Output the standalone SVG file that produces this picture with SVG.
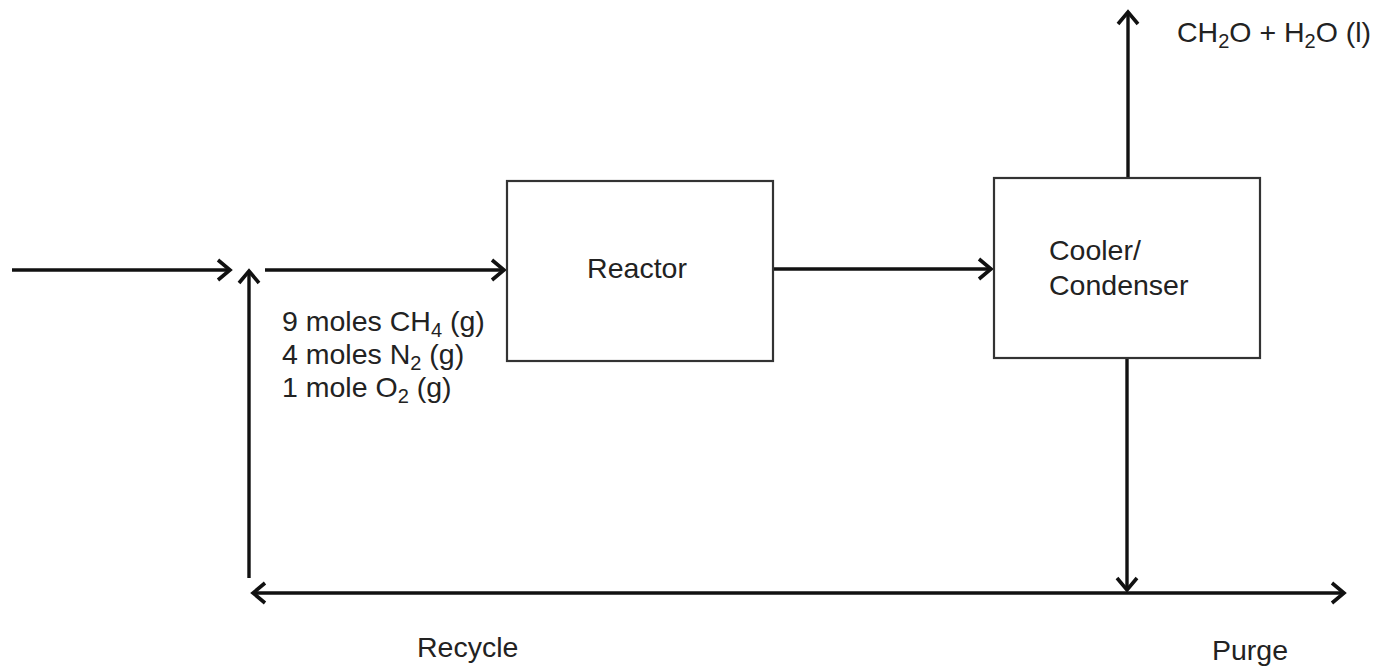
<svg xmlns="http://www.w3.org/2000/svg" width="1377" height="668" viewBox="0 0 1377 668">
  <style>
    .box { fill: #ffffff; stroke: #333333; stroke-width: 2.2; }
    .flow { stroke: #111; stroke-width: 3.4; fill: none; marker-end: url(#arr); }
    .lbl { font-family: "Liberation Sans", Arial, sans-serif; font-size: 28.5px; fill: #222222; }
    .sub { font-size: 20px; }
  </style>
  <defs>
    <marker id="arr" markerUnits="userSpaceOnUse" viewBox="-16 -14 20 28" refX="0" refY="0" markerWidth="20" markerHeight="28" orient="auto" overflow="visible">
      <path d="M-12,-10 L0,0 L-12,10" fill="none" stroke="#111" stroke-width="3.6" stroke-linejoin="miter"/>
    </marker>
  </defs>
  <rect width="1377" height="668" fill="#ffffff"/>

  <g id="connectors">
    <line class="flow" x1="12" y1="270" x2="230" y2="270"/>
    <line class="flow" x1="265" y1="270" x2="504" y2="270"/>
    <line class="flow" x1="773" y1="269" x2="991" y2="269"/>
    <line class="flow" x1="249" y1="578" x2="249" y2="271"/>
    <line class="flow" x1="1128" y1="178" x2="1128" y2="12"/>
    <line class="flow" x1="1127" y1="358" x2="1127" y2="590"/>
    <line class="flow" x1="1127" y1="593" x2="253" y2="593"/>
    <line class="flow" x1="1127" y1="593" x2="1344" y2="593"/>
  </g>

  <g id="reactor">
    <rect class="box" x="507" y="181" width="266" height="180"/>
    <text class="lbl" x="637" y="278" text-anchor="middle" font-size="29">Reactor</text>
  </g>

  <g id="cooler">
    <rect class="box" x="994" y="178" width="266" height="180"/>
    <text class="lbl" x="1049" y="260" font-size="28.5">Cooler/</text>
    <text class="lbl" x="1049" y="295" font-size="28.5">Condenser</text>
  </g>

  <g id="feed-label">
    <text class="lbl" x="282" y="331">9 moles CH<tspan class="sub" dy="6">4</tspan><tspan dy="-6"> (g)</tspan></text>
    <text class="lbl" x="282" y="364">4 moles N<tspan class="sub" dy="6">2</tspan><tspan dy="-6"> (g)</tspan></text>
    <text class="lbl" x="282" y="397">1 mole O<tspan class="sub" dy="6">2</tspan><tspan dy="-6"> (g)</tspan></text>
  </g>

  <g id="product-label">
    <text class="lbl" x="1177" y="42" font-size="29">CH<tspan class="sub" dy="6">2</tspan><tspan dy="-6">O + H</tspan><tspan class="sub" dy="6">2</tspan><tspan dy="-6">O (l)</tspan></text>
  </g>

  <g id="recycle-label">
    <text class="lbl" x="417" y="657">Recycle</text>
  </g>

  <g id="purge-label">
    <text class="lbl" x="1212" y="660">Purge</text>
  </g>
</svg>
